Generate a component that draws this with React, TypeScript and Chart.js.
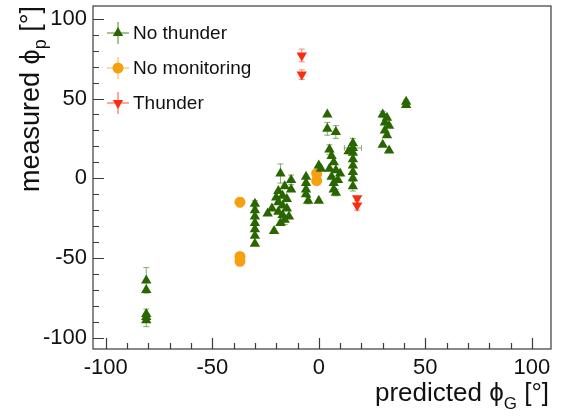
import React, { useEffect, useRef } from "react";
import { Chart, registerables } from "chart.js";

Chart.register(...registerables);

// ---- data ----
const xTickValues = [-100, -50, 0, 50, 100];
const yTickValues = [-100, -50, 0, 50, 100];

const noThunderX = [
  -81, -81, -81, -81, -81,
  -30, -30, -30, -30, -30, -30, -30,
  -18, -13,
  -19, -17, -15, -19, -17, -15, -19, -17, -16, -14, -18, -21, -20, -22, -24, -13, -16,
  -6, -6, -6, -6, -5,
  0, 0, 1,
  4, 4, 8,
  5, 6, 7, 5, 8, 6, 7, 9, 7, 8, 10,
  16, 16, 16, 16, 16, 16, 16, 16, 14,
  30, 32, 31, 33, 31, 32, 30, 33,
  41, 41,
];
const noThunderY = [
  -64, -70, -85, -87, -89,
  -16, -20, -24, -28, -32, -36, -41,
  3, -1,
  -8, -11, -13, -15, -17, -19, -21, -23, -26, -24, -28, -33, -12, -19, -22, -7, -5,
  1, -3, -7, -10, -14,
  8, -14, 6,
  40, 31, 29,
  18, 14, 10, 6, 5, 1, -3, -1, -7, -9, 3,
  22, 19, 16, 12, 8, 4, 0, -5, 17,
  40, 38, 35, 33, 30, 27, 21, 17.5,
  48, 46,
];
const noThunderYErr = [
  8, 0, 3, 0, 4,
  2, 0, 0, 0, 0, 0, 0,
  6, 3,
  0, 0, 0, 0, 0, 0, 0, 0, 3, 0, 0, 0, 0, 0, 0, 0, 0,
  0, 0, 0, 0, 2,
  0, 0, 0,
  0, 4, 4,
  3, 0, 0, 0, 0, 0, 0, 0, 0, 2, 0,
  3, 0, 0, 0, 0, 0, 0, 3, 0,
  2, 0, 0, 0, 0, 0, 0, 0,
  1, 0,
];
const noThunderXErr = [
  0, 0, 0, 0, 0,
  0, 0, 0, 0, 0, 0, 0,
  0, 0,
  0, 0, 0, 0, 0, 0, 0, 0, 0, 0, 0, 0, 0, 0, 0, 0, 0,
  0, 0, 0, 0, 0,
  0, 0, 0,
  0, 0, 0,
  0, 0, 0, 0, 0, 0, 0, 0, 0, 0, 0,
  0, 4, 0, 0, 0, 0, 0, 0, 0,
  0, 0, 0, 0, 0, 0, 0, 0,
  0, 0,
];

const noMonitoringX = [-37, -37, -37, -1, -1];
const noMonitoringY = [-15, -49, -52, 3, -1.5];
const noMonitoringYErr = [3, 0, 0, 0, 0];

const thunderX = [-8, -8, 18, 18];
const thunderY = [77, 65, -12.5, -17];
const thunderYErr = [4, 3, 0, 3];

const seriesNames = ["No thunder", "No monitoring", "Thunder"];

const GREEN = "#2a6600";
const GREEN_ERR = "rgba(42,102,0,0.55)";
const ORANGE = "#f5a011";
const ORANGE_ERR = "rgba(245,160,17,0.55)";
const RED = "#fb2d10";
const RED_ERR = "rgba(251,45,16,0.55)";

const FONT = '"Liberation Sans", Arial, Helvetica, sans-serif';

function toPoints(xs: number[], ys: number[]) {
  return xs.map((x, i) => ({ x, y: ys[i] }));
}

const errorBarPlugin = {
  id: "errorBars",
  beforeDatasetsDraw(chart: any) {
    const ctx = chart.ctx;
    const xs = chart.scales.x;
    const ys = chart.scales.y;
    chart.data.datasets.forEach((ds: any) => {
      const yErr: number[] = ds.yErr || [];
      const xErr: number[] = ds.xErr || [];
      ctx.save();
      ctx.strokeStyle = ds.errColor;
      ctx.lineWidth = 1;
      ds.data.forEach((p: any, i: number) => {
        const px = xs.getPixelForValue(p.x);
        const py = ys.getPixelForValue(p.y);
        const ey = yErr[i] || 0;
        if (ey > 0) {
          const y1 = ys.getPixelForValue(p.y + ey);
          const y2 = ys.getPixelForValue(p.y - ey);
          ctx.beginPath();
          ctx.moveTo(px, y1);
          ctx.lineTo(px, y2);
          ctx.moveTo(px - 3, y1);
          ctx.lineTo(px + 3, y1);
          ctx.moveTo(px - 3, y2);
          ctx.lineTo(px + 3, y2);
          ctx.stroke();
        }
        const ex = xErr[i] || 0;
        if (ex > 0) {
          const x1 = xs.getPixelForValue(p.x - ex);
          const x2 = xs.getPixelForValue(p.x + ex);
          ctx.beginPath();
          ctx.moveTo(x1, py);
          ctx.lineTo(x2, py);
          ctx.moveTo(x1, py - 3);
          ctx.lineTo(x1, py + 3);
          ctx.moveTo(x2, py - 3);
          ctx.lineTo(x2, py + 3);
          ctx.stroke();
        }
      });
      ctx.restore();
    });
  },
};

function drawTri(ctx: any, x: number, y: number, r: number, down: boolean) {
  const s = down ? -1 : 1;
  ctx.beginPath();
  ctx.moveTo(x, y - s * r);
  ctx.lineTo(x + r * 0.866, y + s * r * 0.5);
  ctx.lineTo(x - r * 0.866, y + s * r * 0.5);
  ctx.closePath();
  ctx.fill();
}

const framePlugin = {
  id: "frameAndTitles",
  afterDraw(chart: any) {
    const ctx = chart.ctx;
    const { left, right, top, bottom } = chart.chartArea;
    const xs = chart.scales.x;
    const ys = chart.scales.y;
    ctx.save();
    // frame
    ctx.strokeStyle = "#3a3a3a";
    ctx.lineWidth = 1.2;
    ctx.strokeRect(left, top, right - left, bottom - top);
    // ticks
    ctx.beginPath();
    for (let v = -100; v <= 100; v += 10) {
      const len = v % 50 === 0 ? 11 : 6;
      const px = Math.round(xs.getPixelForValue(v)) + 0.5;
      ctx.moveTo(px, bottom);
      ctx.lineTo(px, bottom - len);
      const py = Math.round(ys.getPixelForValue(v)) + 0.5;
      ctx.moveTo(left, py);
      ctx.lineTo(left + len, py);
    }
    ctx.stroke();

    // legend
    const items = [
      { name: seriesNames[0], color: GREEN, err: GREEN_ERR, kind: "up" },
      { name: seriesNames[1], color: ORANGE, err: ORANGE_ERR, kind: "circle" },
      { name: seriesNames[2], color: RED, err: RED_ERR, kind: "down" },
    ];
    items.forEach((it, i) => {
      const mx = 118;
      const my = 33 + i * 35;
      ctx.strokeStyle = it.err;
      ctx.lineWidth = 1.5;
      ctx.beginPath();
      ctx.moveTo(mx - 11, my);
      ctx.lineTo(mx + 11, my);
      ctx.moveTo(mx, my - 11);
      ctx.lineTo(mx, my + 11);
      ctx.stroke();
      ctx.fillStyle = it.color;
      if (it.kind === "circle") {
        ctx.beginPath();
        ctx.arc(mx, my, 5.5, 0, Math.PI * 2);
        ctx.fill();
      } else {
        drawTri(ctx, mx, my, 6, it.kind === "down");
      }
      ctx.fillStyle = "#111";
      ctx.font = `19px ${FONT}`;
      ctx.textAlign = "left";
      ctx.textBaseline = "middle";
      ctx.fillText(it.name, 133, my + 1);
    });

    // x title
    ctx.fillStyle = "#111";
    ctx.textBaseline = "alphabetic";
    ctx.textAlign = "left";
    {
      const big = `26px ${FONT}`;
      const small = `17px ${FONT}`;
      const parts = [
        { t: "predicted ", f: big, dy: 0 },
        { t: "\u03d5", f: big, dy: 0 },
        { t: "G", f: small, dy: 8 },
        { t: " [\u00b0]", f: big, dy: 0 },
      ];
      let total = 0;
      parts.forEach((p) => { ctx.font = p.f; total += ctx.measureText(p.t).width; });
      let x = right - 2 - total;
      const base = 401;
      parts.forEach((p) => {
        ctx.font = p.f;
        ctx.fillText(p.t, x, base + p.dy);
        x += ctx.measureText(p.t).width;
      });
    }
    // y title
    {
      const big = `27px ${FONT}`;
      const small = `18px ${FONT}`;
      const parts = [
        { t: "measured ", f: big, dy: 0 },
        { t: "\u03d5", f: big, dy: 0 },
        { t: "p", f: small, dy: 7 },
        { t: " [\u00b0]", f: big, dy: 0 },
      ];
      let total = 0;
      parts.forEach((p) => { ctx.font = p.f; total += ctx.measureText(p.t).width; });
      ctx.translate(39, top);
      ctx.rotate(-Math.PI / 2);
      let x = -total;
      parts.forEach((p) => {
        ctx.font = p.f;
        ctx.fillText(p.t, x, p.dy);
        x += ctx.measureText(p.t).width;
      });
    }
    ctx.restore();
  },
};

export default function App() {
  const ref = useRef<HTMLCanvasElement | null>(null);
  useEffect(() => {
    if (!ref.current) return;
    const chart = new Chart(ref.current, {
      type: "scatter",
      data: {
        datasets: [
          {
            label: seriesNames[0],
            data: toPoints(noThunderX, noThunderY),
            pointStyle: "triangle",
            pointRadius: 6,
            backgroundColor: GREEN,
            borderWidth: 0,
            yErr: noThunderYErr,
            xErr: noThunderXErr,
            errColor: GREEN_ERR,
          } as any,
          {
            label: seriesNames[1],
            data: toPoints(noMonitoringX, noMonitoringY),
            pointStyle: "circle",
            pointRadius: 5.5,
            backgroundColor: ORANGE,
            borderWidth: 0,
            yErr: noMonitoringYErr,
            errColor: ORANGE_ERR,
          } as any,
          {
            label: seriesNames[2],
            data: toPoints(thunderX, thunderY),
            pointStyle: "triangle",
            rotation: 180,
            pointRadius: 6,
            backgroundColor: RED,
            borderWidth: 0,
            yErr: thunderYErr,
            errColor: RED_ERR,
          } as any,
        ],
      },
      options: {
        animation: false,
        responsive: false,
        devicePixelRatio: 1,
        layout: { padding: { top: 5, right: 12, left: 0, bottom: 0 } },
        plugins: { legend: { display: false }, tooltip: { enabled: false } },
        scales: {
          x: {
            type: "linear",
            min: -106,
            max: 109,
            grid: { display: false, drawTicks: false },
            border: { display: false },
            afterFit: (s: any) => { s.height = 70; s.paddingLeft = 0; s.paddingRight = 0; },
            afterBuildTicks: (s: any) => { s.ticks = xTickValues.map((v) => ({ value: v })); },
            ticks: {
              color: "#111",
              padding: 6,
              maxRotation: 0,
              autoSkip: false,
              font: { family: FONT, size: 22 },
              callback: (v: any) => String(v),
            },
          },
          y: {
            type: "linear",
            min: -107,
            max: 108,
            grid: { display: false, drawTicks: false },
            border: { display: false },
            afterFit: (s: any) => { s.width = 93; s.paddingTop = 0; s.paddingBottom = 0; },
            afterBuildTicks: (s: any) => { s.ticks = yTickValues.map((v) => ({ value: v })); },
            ticks: {
              color: "#111",
              padding: 6,
              autoSkip: false,
              font: { family: FONT, size: 22 },
              callback: (v: any) => String(v),
            },
          },
        },
      },
      plugins: [errorBarPlugin, framePlugin],
    } as any);
    return () => chart.destroy();
  }, []);
  return (
    <div style={{ position: "absolute", left: 0, top: 0, width: 563, height: 419, background: "#fff" }}>
      <canvas ref={ref} width={563} height={419} />
    </div>
  );
}
